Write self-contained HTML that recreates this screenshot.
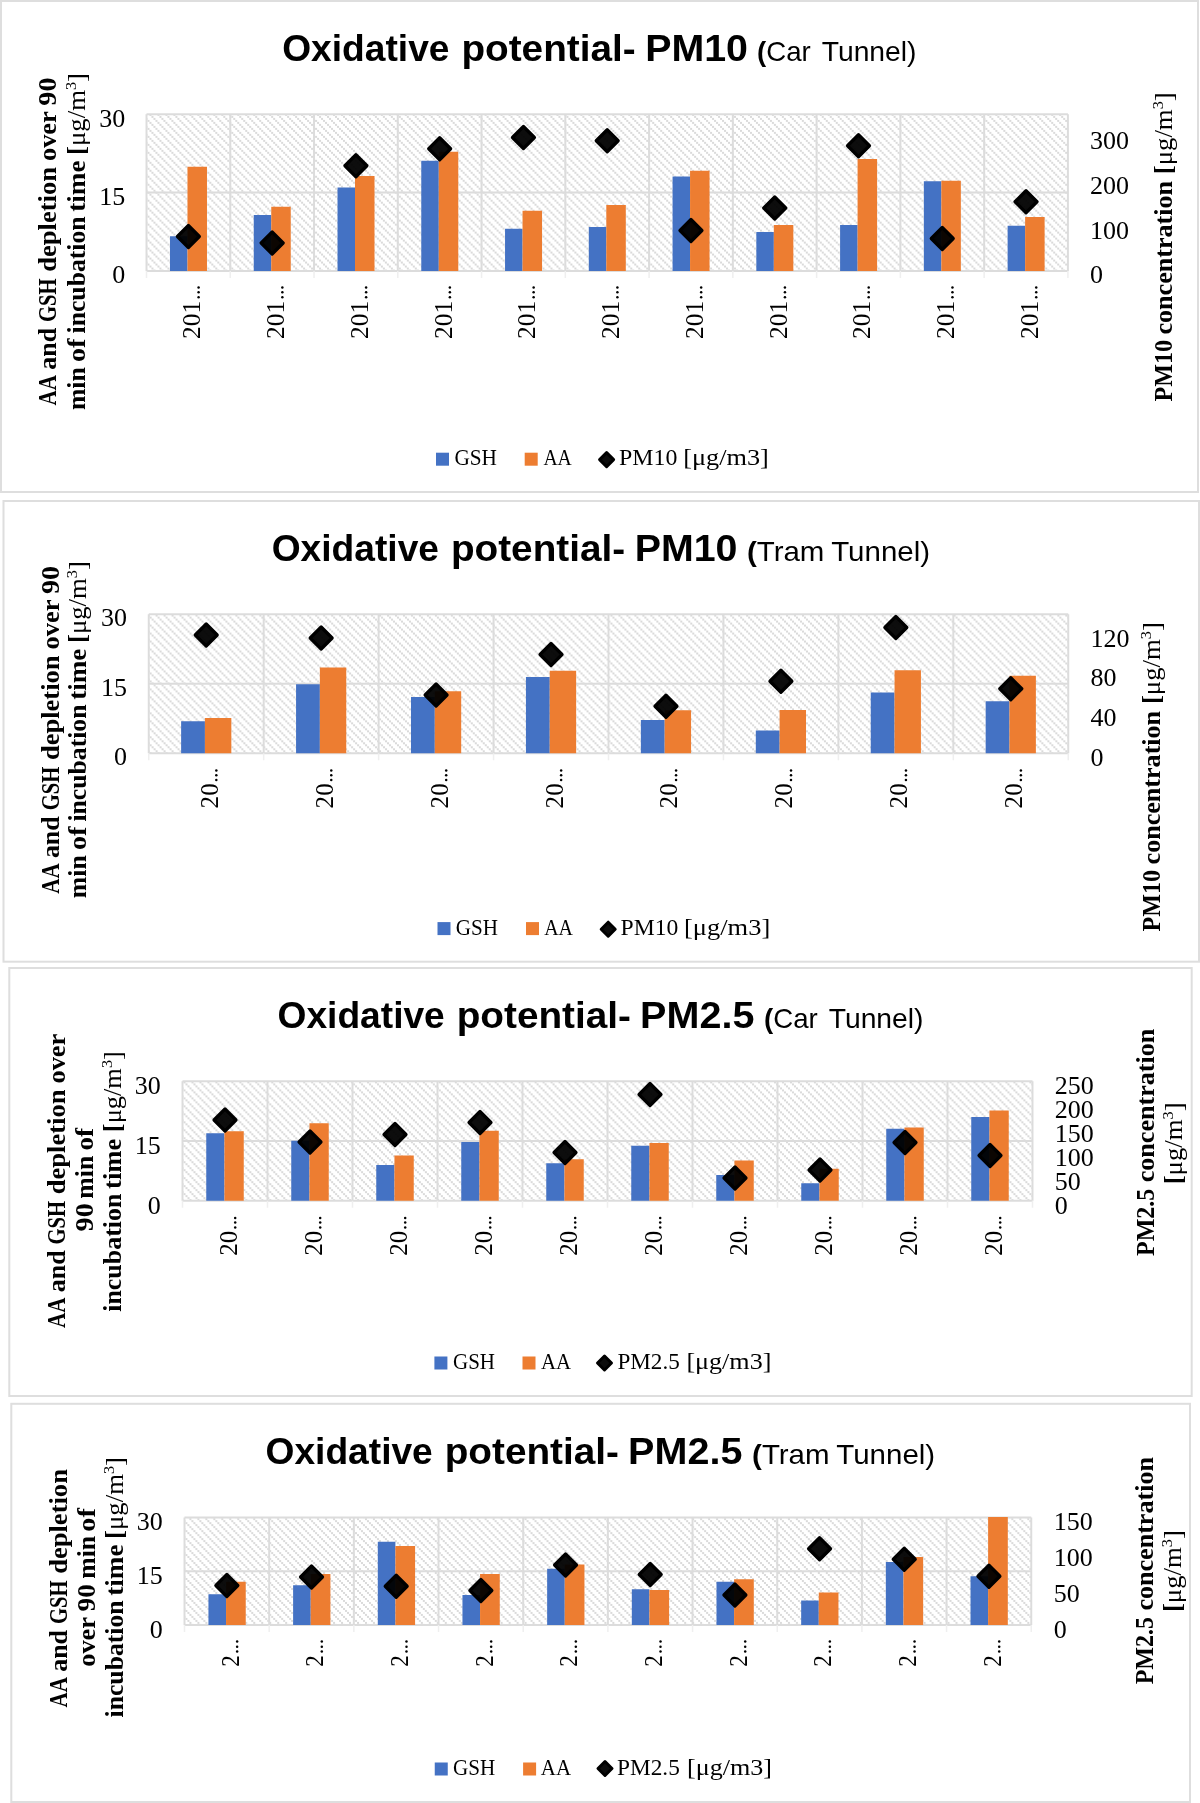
<!DOCTYPE html>
<html><head><meta charset="utf-8"><title>Oxidative potential charts</title>
<style>
html,body{margin:0;padding:0;background:#fff;}
body{width:1200px;height:1803px;overflow:hidden;}
svg{display:block;will-change:transform;}
text{font-family:"Liberation Serif",serif;fill:#000;}
text.t{font-family:"Liberation Sans",sans-serif;}
text.b{font-weight:bold;}
</style></head><body>
<svg width="1200" height="1803" viewBox="0 0 1200 1803">
<defs>
<pattern id="hc1" width="8" height="8" patternUnits="userSpaceOnUse" patternTransform="translate(157.452,121.903) scale(0.9975)"><rect x="0" y="0" width="2" height="2" fill="#dadada"/><rect x="2" y="2" width="2" height="2" fill="#dadada"/><rect x="4" y="4" width="2" height="2" fill="#dadada"/><rect x="6" y="6" width="2" height="2" fill="#dadada"/></pattern>
<pattern id="hc2" width="8" height="8" patternUnits="userSpaceOnUse" patternTransform="translate(159.602,618.603) scale(0.9975)"><rect x="0" y="0" width="2" height="2" fill="#dadada"/><rect x="2" y="2" width="2" height="2" fill="#dadada"/><rect x="4" y="4" width="2" height="2" fill="#dadada"/><rect x="6" y="6" width="2" height="2" fill="#dadada"/></pattern>
<pattern id="hc3" width="8" height="8" patternUnits="userSpaceOnUse" patternTransform="translate(189.502,1087.403) scale(0.9975)"><rect x="0" y="0" width="2" height="2" fill="#dadada"/><rect x="2" y="2" width="2" height="2" fill="#dadada"/><rect x="4" y="4" width="2" height="2" fill="#dadada"/><rect x="6" y="6" width="2" height="2" fill="#dadada"/></pattern>
<pattern id="hc4" width="8" height="8" patternUnits="userSpaceOnUse" patternTransform="translate(193.403,1522.153) scale(0.9975)"><rect x="0" y="0" width="2" height="2" fill="#dadada"/><rect x="2" y="2" width="2" height="2" fill="#dadada"/><rect x="4" y="4" width="2" height="2" fill="#dadada"/><rect x="6" y="6" width="2" height="2" fill="#dadada"/></pattern>
</defs>
<rect width="1200" height="1803" fill="#fff"/>
<rect x="1.00" y="1.00" width="1197.00" height="491.00" fill="#fff" stroke="#dedede" stroke-width="2"/>
<rect x="146.50" y="114.20" width="921.40" height="156.80" fill="url(#hc1)"/>
<line x1="146.50" y1="114.20" x2="1067.90" y2="114.20" stroke="#dcdcdc" stroke-width="2"/>
<line x1="146.50" y1="192.60" x2="1067.90" y2="192.60" stroke="#dcdcdc" stroke-width="2"/>
<line x1="146.50" y1="271.00" x2="1067.90" y2="271.00" stroke="#dcdcdc" stroke-width="2"/>
<line x1="146.50" y1="114.20" x2="146.50" y2="271.00" stroke="#dcdcdc" stroke-width="2"/>
<line x1="146.50" y1="271.00" x2="146.50" y2="278.00" stroke="#efefef" stroke-width="1.5"/>
<line x1="230.26" y1="114.20" x2="230.26" y2="271.00" stroke="#dcdcdc" stroke-width="2"/>
<line x1="230.26" y1="271.00" x2="230.26" y2="278.00" stroke="#efefef" stroke-width="1.5"/>
<line x1="314.03" y1="114.20" x2="314.03" y2="271.00" stroke="#dcdcdc" stroke-width="2"/>
<line x1="314.03" y1="271.00" x2="314.03" y2="278.00" stroke="#efefef" stroke-width="1.5"/>
<line x1="397.79" y1="114.20" x2="397.79" y2="271.00" stroke="#dcdcdc" stroke-width="2"/>
<line x1="397.79" y1="271.00" x2="397.79" y2="278.00" stroke="#efefef" stroke-width="1.5"/>
<line x1="481.55" y1="114.20" x2="481.55" y2="271.00" stroke="#dcdcdc" stroke-width="2"/>
<line x1="481.55" y1="271.00" x2="481.55" y2="278.00" stroke="#efefef" stroke-width="1.5"/>
<line x1="565.32" y1="114.20" x2="565.32" y2="271.00" stroke="#dcdcdc" stroke-width="2"/>
<line x1="565.32" y1="271.00" x2="565.32" y2="278.00" stroke="#efefef" stroke-width="1.5"/>
<line x1="649.08" y1="114.20" x2="649.08" y2="271.00" stroke="#dcdcdc" stroke-width="2"/>
<line x1="649.08" y1="271.00" x2="649.08" y2="278.00" stroke="#efefef" stroke-width="1.5"/>
<line x1="732.85" y1="114.20" x2="732.85" y2="271.00" stroke="#dcdcdc" stroke-width="2"/>
<line x1="732.85" y1="271.00" x2="732.85" y2="278.00" stroke="#efefef" stroke-width="1.5"/>
<line x1="816.61" y1="114.20" x2="816.61" y2="271.00" stroke="#dcdcdc" stroke-width="2"/>
<line x1="816.61" y1="271.00" x2="816.61" y2="278.00" stroke="#efefef" stroke-width="1.5"/>
<line x1="900.37" y1="114.20" x2="900.37" y2="271.00" stroke="#dcdcdc" stroke-width="2"/>
<line x1="900.37" y1="271.00" x2="900.37" y2="278.00" stroke="#efefef" stroke-width="1.5"/>
<line x1="984.14" y1="114.20" x2="984.14" y2="271.00" stroke="#dcdcdc" stroke-width="2"/>
<line x1="984.14" y1="271.00" x2="984.14" y2="278.00" stroke="#efefef" stroke-width="1.5"/>
<line x1="1067.90" y1="114.20" x2="1067.90" y2="271.00" stroke="#dcdcdc" stroke-width="2"/>
<line x1="1067.90" y1="271.00" x2="1067.90" y2="278.00" stroke="#efefef" stroke-width="1.5"/>
<rect x="169.98" y="236.25" width="17.50" height="34.75" fill="#4472C4"/>
<rect x="187.48" y="166.75" width="19.50" height="104.25" fill="#ED7D31"/>
<rect x="253.75" y="215.00" width="17.50" height="56.00" fill="#4472C4"/>
<rect x="271.25" y="206.75" width="19.50" height="64.25" fill="#ED7D31"/>
<rect x="337.51" y="187.50" width="17.50" height="83.50" fill="#4472C4"/>
<rect x="355.01" y="176.00" width="19.50" height="95.00" fill="#ED7D31"/>
<rect x="421.27" y="160.75" width="17.50" height="110.25" fill="#4472C4"/>
<rect x="438.77" y="151.75" width="19.50" height="119.25" fill="#ED7D31"/>
<rect x="505.04" y="228.75" width="17.50" height="42.25" fill="#4472C4"/>
<rect x="522.54" y="210.75" width="19.50" height="60.25" fill="#ED7D31"/>
<rect x="588.80" y="227.00" width="17.50" height="44.00" fill="#4472C4"/>
<rect x="606.30" y="205.00" width="19.50" height="66.00" fill="#ED7D31"/>
<rect x="672.56" y="176.50" width="17.50" height="94.50" fill="#4472C4"/>
<rect x="690.06" y="170.75" width="19.50" height="100.25" fill="#ED7D31"/>
<rect x="756.33" y="232.00" width="17.50" height="39.00" fill="#4472C4"/>
<rect x="773.83" y="225.00" width="19.50" height="46.00" fill="#ED7D31"/>
<rect x="840.09" y="225.00" width="17.50" height="46.00" fill="#4472C4"/>
<rect x="857.59" y="159.00" width="19.50" height="112.00" fill="#ED7D31"/>
<rect x="923.85" y="181.25" width="17.50" height="89.75" fill="#4472C4"/>
<rect x="941.35" y="180.75" width="19.50" height="90.25" fill="#ED7D31"/>
<rect x="1007.62" y="225.75" width="17.50" height="45.25" fill="#4472C4"/>
<rect x="1025.12" y="217.00" width="19.50" height="54.00" fill="#ED7D31"/>
<path d="M188.38,225.50L199.38,236.50L188.38,247.50L177.38,236.50Z" fill="#000" fill-opacity="0.95" stroke="#000" stroke-width="3.2" stroke-linejoin="round"/>
<path d="M272.15,232.00L283.15,243.00L272.15,254.00L261.15,243.00Z" fill="#000" fill-opacity="0.95" stroke="#000" stroke-width="3.2" stroke-linejoin="round"/>
<path d="M355.91,154.75L366.91,165.75L355.91,176.75L344.91,165.75Z" fill="#000" fill-opacity="0.95" stroke="#000" stroke-width="3.2" stroke-linejoin="round"/>
<path d="M439.67,137.75L450.67,148.75L439.67,159.75L428.67,148.75Z" fill="#000" fill-opacity="0.95" stroke="#000" stroke-width="3.2" stroke-linejoin="round"/>
<path d="M523.44,126.50L534.44,137.50L523.44,148.50L512.44,137.50Z" fill="#000" fill-opacity="0.95" stroke="#000" stroke-width="3.2" stroke-linejoin="round"/>
<path d="M607.20,129.75L618.20,140.75L607.20,151.75L596.20,140.75Z" fill="#000" fill-opacity="0.95" stroke="#000" stroke-width="3.2" stroke-linejoin="round"/>
<path d="M690.96,219.50L701.96,230.50L690.96,241.50L679.96,230.50Z" fill="#000" fill-opacity="0.95" stroke="#000" stroke-width="3.2" stroke-linejoin="round"/>
<path d="M774.73,197.00L785.73,208.00L774.73,219.00L763.73,208.00Z" fill="#000" fill-opacity="0.95" stroke="#000" stroke-width="3.2" stroke-linejoin="round"/>
<path d="M858.49,134.75L869.49,145.75L858.49,156.75L847.49,145.75Z" fill="#000" fill-opacity="0.95" stroke="#000" stroke-width="3.2" stroke-linejoin="round"/>
<path d="M942.25,227.50L953.25,238.50L942.25,249.50L931.25,238.50Z" fill="#000" fill-opacity="0.95" stroke="#000" stroke-width="3.2" stroke-linejoin="round"/>
<path d="M1026.02,190.75L1037.02,201.75L1026.02,212.75L1015.02,201.75Z" fill="#000" fill-opacity="0.95" stroke="#000" stroke-width="3.2" stroke-linejoin="round"/>
<text class="s" transform="translate(200.28,338.90) rotate(-90)" font-size="25.5" text-anchor="start" textLength="38.0" lengthAdjust="spacingAndGlyphs">201</text>
<circle cx="198.58" cy="297.30" r="1.25" fill="#000"/>
<circle cx="198.58" cy="292.30" r="1.25" fill="#000"/>
<circle cx="198.58" cy="287.60" r="1.25" fill="#000"/>
<text class="s" transform="translate(284.05,338.90) rotate(-90)" font-size="25.5" text-anchor="start" textLength="38.0" lengthAdjust="spacingAndGlyphs">201</text>
<circle cx="282.35" cy="297.30" r="1.25" fill="#000"/>
<circle cx="282.35" cy="292.30" r="1.25" fill="#000"/>
<circle cx="282.35" cy="287.60" r="1.25" fill="#000"/>
<text class="s" transform="translate(367.81,338.90) rotate(-90)" font-size="25.5" text-anchor="start" textLength="38.0" lengthAdjust="spacingAndGlyphs">201</text>
<circle cx="366.11" cy="297.30" r="1.25" fill="#000"/>
<circle cx="366.11" cy="292.30" r="1.25" fill="#000"/>
<circle cx="366.11" cy="287.60" r="1.25" fill="#000"/>
<text class="s" transform="translate(451.57,338.90) rotate(-90)" font-size="25.5" text-anchor="start" textLength="38.0" lengthAdjust="spacingAndGlyphs">201</text>
<circle cx="449.87" cy="297.30" r="1.25" fill="#000"/>
<circle cx="449.87" cy="292.30" r="1.25" fill="#000"/>
<circle cx="449.87" cy="287.60" r="1.25" fill="#000"/>
<text class="s" transform="translate(535.34,338.90) rotate(-90)" font-size="25.5" text-anchor="start" textLength="38.0" lengthAdjust="spacingAndGlyphs">201</text>
<circle cx="533.64" cy="297.30" r="1.25" fill="#000"/>
<circle cx="533.64" cy="292.30" r="1.25" fill="#000"/>
<circle cx="533.64" cy="287.60" r="1.25" fill="#000"/>
<text class="s" transform="translate(619.10,338.90) rotate(-90)" font-size="25.5" text-anchor="start" textLength="38.0" lengthAdjust="spacingAndGlyphs">201</text>
<circle cx="617.40" cy="297.30" r="1.25" fill="#000"/>
<circle cx="617.40" cy="292.30" r="1.25" fill="#000"/>
<circle cx="617.40" cy="287.60" r="1.25" fill="#000"/>
<text class="s" transform="translate(702.86,338.90) rotate(-90)" font-size="25.5" text-anchor="start" textLength="38.0" lengthAdjust="spacingAndGlyphs">201</text>
<circle cx="701.16" cy="297.30" r="1.25" fill="#000"/>
<circle cx="701.16" cy="292.30" r="1.25" fill="#000"/>
<circle cx="701.16" cy="287.60" r="1.25" fill="#000"/>
<text class="s" transform="translate(786.63,338.90) rotate(-90)" font-size="25.5" text-anchor="start" textLength="38.0" lengthAdjust="spacingAndGlyphs">201</text>
<circle cx="784.93" cy="297.30" r="1.25" fill="#000"/>
<circle cx="784.93" cy="292.30" r="1.25" fill="#000"/>
<circle cx="784.93" cy="287.60" r="1.25" fill="#000"/>
<text class="s" transform="translate(870.39,338.90) rotate(-90)" font-size="25.5" text-anchor="start" textLength="38.0" lengthAdjust="spacingAndGlyphs">201</text>
<circle cx="868.69" cy="297.30" r="1.25" fill="#000"/>
<circle cx="868.69" cy="292.30" r="1.25" fill="#000"/>
<circle cx="868.69" cy="287.60" r="1.25" fill="#000"/>
<text class="s" transform="translate(954.15,338.90) rotate(-90)" font-size="25.5" text-anchor="start" textLength="38.0" lengthAdjust="spacingAndGlyphs">201</text>
<circle cx="952.45" cy="297.30" r="1.25" fill="#000"/>
<circle cx="952.45" cy="292.30" r="1.25" fill="#000"/>
<circle cx="952.45" cy="287.60" r="1.25" fill="#000"/>
<text class="s" transform="translate(1037.92,338.90) rotate(-90)" font-size="25.5" text-anchor="start" textLength="38.0" lengthAdjust="spacingAndGlyphs">201</text>
<circle cx="1036.22" cy="297.30" r="1.25" fill="#000"/>
<circle cx="1036.22" cy="292.30" r="1.25" fill="#000"/>
<circle cx="1036.22" cy="287.60" r="1.25" fill="#000"/>
<text class="s" x="125.30" y="127.00" font-size="25" text-anchor="end" textLength="26.0" lengthAdjust="spacingAndGlyphs">30</text>
<text class="s" x="125.30" y="205.30" font-size="25" text-anchor="end" textLength="26.0" lengthAdjust="spacingAndGlyphs">15</text>
<text class="s" x="125.30" y="283.30" font-size="25" text-anchor="end" textLength="13.0" lengthAdjust="spacingAndGlyphs">0</text>
<text class="s" x="1090.00" y="149.00" font-size="25" text-anchor="start" textLength="39.0" lengthAdjust="spacingAndGlyphs">300</text>
<text class="s" x="1090.00" y="194.00" font-size="25" text-anchor="start" textLength="39.0" lengthAdjust="spacingAndGlyphs">200</text>
<text class="s" x="1090.00" y="239.00" font-size="25" text-anchor="start" textLength="39.0" lengthAdjust="spacingAndGlyphs">100</text>
<text class="s" x="1090.00" y="283.30" font-size="25" text-anchor="start" textLength="13.0" lengthAdjust="spacingAndGlyphs">0</text>
<text class="t b" x="282.20" y="60.70" font-size="37.8" text-anchor="start" textLength="167.3" lengthAdjust="spacingAndGlyphs">Oxidative</text>
<text class="t b" x="461.40" y="60.70" font-size="37.8" text-anchor="start" textLength="174.3" lengthAdjust="spacingAndGlyphs">potential-</text>
<text class="t b" x="645.20" y="60.70" font-size="37.8" text-anchor="start" textLength="102.8" lengthAdjust="spacingAndGlyphs">PM10</text>
<text class="t" x="757.00" y="60.70" font-size="28" text-anchor="start" textLength="53.7" lengthAdjust="spacingAndGlyphs"><tspan font-weight="bold">(</tspan>Car</text>
<text class="t" x="821.70" y="60.70" font-size="28" text-anchor="start" textLength="94.8" lengthAdjust="spacingAndGlyphs">Tunnel)</text>
<text class="s" transform="translate(56.30,405.40) rotate(-90)" font-size="24.6" text-anchor="start" textLength="30.5" lengthAdjust="spacingAndGlyphs"><tspan font-weight="bold">AA</tspan></text>
<text class="s" transform="translate(56.30,369.70) rotate(-90)" font-size="24.6" text-anchor="start" textLength="41.8" lengthAdjust="spacingAndGlyphs"><tspan font-weight="bold">and</tspan></text>
<text class="s" transform="translate(56.30,321.90) rotate(-90)" font-size="24.6" text-anchor="start" textLength="43.5" lengthAdjust="spacingAndGlyphs"><tspan font-weight="bold">GSH</tspan></text>
<text class="s" transform="translate(56.30,271.70) rotate(-90)" font-size="24.6" text-anchor="start" textLength="104.7" lengthAdjust="spacingAndGlyphs"><tspan font-weight="bold">depletion</tspan></text>
<text class="s" transform="translate(56.30,161.00) rotate(-90)" font-size="24.6" text-anchor="start" textLength="49.8" lengthAdjust="spacingAndGlyphs"><tspan font-weight="bold">over</tspan></text>
<text class="s" transform="translate(56.30,105.70) rotate(-90)" font-size="24.6" text-anchor="start" textLength="28.2" lengthAdjust="spacingAndGlyphs"><tspan font-weight="bold">90</tspan></text>
<text class="s" transform="translate(84.50,410.10) rotate(-90)" font-size="24.6" text-anchor="start" textLength="42.9" lengthAdjust="spacingAndGlyphs"><tspan font-weight="bold">min</tspan></text>
<text class="s" transform="translate(84.50,362.00) rotate(-90)" font-size="24.6" text-anchor="start" textLength="23.5" lengthAdjust="spacingAndGlyphs"><tspan font-weight="bold">of</tspan></text>
<text class="s" transform="translate(84.50,333.50) rotate(-90)" font-size="24.6" text-anchor="start" textLength="117.1" lengthAdjust="spacingAndGlyphs"><tspan font-weight="bold">incubation</tspan></text>
<text class="s" transform="translate(84.50,211.70) rotate(-90)" font-size="24.6" text-anchor="start" textLength="51.2" lengthAdjust="spacingAndGlyphs"><tspan font-weight="bold">time</tspan></text>
<text class="s" transform="translate(84.50,154.90) rotate(-90)" font-size="24.6" text-anchor="start" textLength="81.9" lengthAdjust="spacingAndGlyphs"><tspan font-weight="bold">[</tspan>μg/m<tspan font-size="15" dy="-9">3</tspan><tspan dy="9">]</tspan></text>
<text class="s" transform="translate(1172.00,401.60) rotate(-90)" font-size="24.6" text-anchor="start" textLength="61.6" lengthAdjust="spacingAndGlyphs"><tspan font-weight="bold">PM10</tspan></text>
<text class="s" transform="translate(1172.00,334.50) rotate(-90)" font-size="24.6" text-anchor="start" textLength="153.5" lengthAdjust="spacingAndGlyphs"><tspan font-weight="bold">concentration</tspan></text>
<text class="s" transform="translate(1172.00,174.20) rotate(-90)" font-size="24.6" text-anchor="start" textLength="81.9" lengthAdjust="spacingAndGlyphs"><tspan font-weight="bold">[</tspan>μg/m<tspan font-size="15" dy="-9">3</tspan><tspan dy="9">]</tspan></text>
<rect x="436.00" y="452.70" width="13" height="13" fill="#4472C4"/>
<rect x="524.70" y="452.70" width="13" height="13" fill="#ED7D31"/>
<path d="M606.60,452.60L613.60,459.60L606.60,466.60L599.60,459.60Z" fill="#0d0d0d" stroke="#000" stroke-width="3.0" stroke-linejoin="round"/>
<text class="s" x="454.40" y="465.30" font-size="23.8" text-anchor="start" textLength="42.6" lengthAdjust="spacingAndGlyphs">GSH</text>
<text class="s" x="543.40" y="465.30" font-size="23.8" text-anchor="start" textLength="28.4" lengthAdjust="spacingAndGlyphs">AA</text>
<text class="s" x="619.00" y="465.30" font-size="23.8" text-anchor="start" textLength="58.4" lengthAdjust="spacingAndGlyphs">PM10</text>
<text class="s" x="683.20" y="465.30" font-size="23.8" text-anchor="start" textLength="85.6" lengthAdjust="spacingAndGlyphs">[μg/m3]</text>
<rect x="3.50" y="501.00" width="1195.50" height="460.70" fill="#fff" stroke="#dedede" stroke-width="2"/>
<rect x="148.75" y="614.25" width="919.50" height="139.00" fill="url(#hc2)"/>
<line x1="148.75" y1="614.25" x2="1068.25" y2="614.25" stroke="#dcdcdc" stroke-width="2"/>
<line x1="148.75" y1="683.75" x2="1068.25" y2="683.75" stroke="#dcdcdc" stroke-width="2"/>
<line x1="148.75" y1="753.25" x2="1068.25" y2="753.25" stroke="#dcdcdc" stroke-width="2"/>
<line x1="148.75" y1="614.25" x2="148.75" y2="753.25" stroke="#dcdcdc" stroke-width="2"/>
<line x1="148.75" y1="753.25" x2="148.75" y2="760.25" stroke="#efefef" stroke-width="1.5"/>
<line x1="263.69" y1="614.25" x2="263.69" y2="753.25" stroke="#dcdcdc" stroke-width="2"/>
<line x1="263.69" y1="753.25" x2="263.69" y2="760.25" stroke="#efefef" stroke-width="1.5"/>
<line x1="378.62" y1="614.25" x2="378.62" y2="753.25" stroke="#dcdcdc" stroke-width="2"/>
<line x1="378.62" y1="753.25" x2="378.62" y2="760.25" stroke="#efefef" stroke-width="1.5"/>
<line x1="493.56" y1="614.25" x2="493.56" y2="753.25" stroke="#dcdcdc" stroke-width="2"/>
<line x1="493.56" y1="753.25" x2="493.56" y2="760.25" stroke="#efefef" stroke-width="1.5"/>
<line x1="608.50" y1="614.25" x2="608.50" y2="753.25" stroke="#dcdcdc" stroke-width="2"/>
<line x1="608.50" y1="753.25" x2="608.50" y2="760.25" stroke="#efefef" stroke-width="1.5"/>
<line x1="723.44" y1="614.25" x2="723.44" y2="753.25" stroke="#dcdcdc" stroke-width="2"/>
<line x1="723.44" y1="753.25" x2="723.44" y2="760.25" stroke="#efefef" stroke-width="1.5"/>
<line x1="838.38" y1="614.25" x2="838.38" y2="753.25" stroke="#dcdcdc" stroke-width="2"/>
<line x1="838.38" y1="753.25" x2="838.38" y2="760.25" stroke="#efefef" stroke-width="1.5"/>
<line x1="953.31" y1="614.25" x2="953.31" y2="753.25" stroke="#dcdcdc" stroke-width="2"/>
<line x1="953.31" y1="753.25" x2="953.31" y2="760.25" stroke="#efefef" stroke-width="1.5"/>
<line x1="1068.25" y1="614.25" x2="1068.25" y2="753.25" stroke="#dcdcdc" stroke-width="2"/>
<line x1="1068.25" y1="753.25" x2="1068.25" y2="760.25" stroke="#efefef" stroke-width="1.5"/>
<rect x="181.12" y="721.25" width="23.80" height="32.00" fill="#4472C4"/>
<rect x="204.92" y="718.00" width="26.40" height="35.25" fill="#ED7D31"/>
<rect x="296.06" y="684.25" width="23.80" height="69.00" fill="#4472C4"/>
<rect x="319.86" y="667.50" width="26.40" height="85.75" fill="#ED7D31"/>
<rect x="410.99" y="697.00" width="23.80" height="56.25" fill="#4472C4"/>
<rect x="434.79" y="691.25" width="26.40" height="62.00" fill="#ED7D31"/>
<rect x="525.93" y="677.00" width="23.80" height="76.25" fill="#4472C4"/>
<rect x="549.73" y="670.75" width="26.40" height="82.50" fill="#ED7D31"/>
<rect x="640.87" y="720.00" width="23.80" height="33.25" fill="#4472C4"/>
<rect x="664.67" y="710.25" width="26.40" height="43.00" fill="#ED7D31"/>
<rect x="755.81" y="730.50" width="23.80" height="22.75" fill="#4472C4"/>
<rect x="779.61" y="710.00" width="26.40" height="43.25" fill="#ED7D31"/>
<rect x="870.74" y="692.50" width="23.80" height="60.75" fill="#4472C4"/>
<rect x="894.54" y="670.25" width="26.40" height="83.00" fill="#ED7D31"/>
<rect x="985.68" y="701.25" width="23.80" height="52.00" fill="#4472C4"/>
<rect x="1009.48" y="675.75" width="26.40" height="77.50" fill="#ED7D31"/>
<path d="M206.22,624.00L217.22,635.00L206.22,646.00L195.22,635.00Z" fill="#000" fill-opacity="0.95" stroke="#000" stroke-width="3.2" stroke-linejoin="round"/>
<path d="M321.16,627.00L332.16,638.00L321.16,649.00L310.16,638.00Z" fill="#000" fill-opacity="0.95" stroke="#000" stroke-width="3.2" stroke-linejoin="round"/>
<path d="M436.09,684.00L447.09,695.00L436.09,706.00L425.09,695.00Z" fill="#000" fill-opacity="0.95" stroke="#000" stroke-width="3.2" stroke-linejoin="round"/>
<path d="M551.03,643.50L562.03,654.50L551.03,665.50L540.03,654.50Z" fill="#000" fill-opacity="0.95" stroke="#000" stroke-width="3.2" stroke-linejoin="round"/>
<path d="M665.97,695.25L676.97,706.25L665.97,717.25L654.97,706.25Z" fill="#000" fill-opacity="0.95" stroke="#000" stroke-width="3.2" stroke-linejoin="round"/>
<path d="M780.91,670.25L791.91,681.25L780.91,692.25L769.91,681.25Z" fill="#000" fill-opacity="0.95" stroke="#000" stroke-width="3.2" stroke-linejoin="round"/>
<path d="M895.84,616.50L906.84,627.50L895.84,638.50L884.84,627.50Z" fill="#000" fill-opacity="0.95" stroke="#000" stroke-width="3.2" stroke-linejoin="round"/>
<path d="M1010.78,677.75L1021.78,688.75L1010.78,699.75L999.78,688.75Z" fill="#000" fill-opacity="0.95" stroke="#000" stroke-width="3.2" stroke-linejoin="round"/>
<text class="s" transform="translate(217.72,808.40) rotate(-90)" font-size="25.5" text-anchor="start" textLength="25.1" lengthAdjust="spacingAndGlyphs">20</text>
<circle cx="216.32" cy="780.00" r="1.25" fill="#000"/>
<circle cx="216.32" cy="775.30" r="1.25" fill="#000"/>
<circle cx="216.32" cy="770.40" r="1.25" fill="#000"/>
<text class="s" transform="translate(332.66,808.40) rotate(-90)" font-size="25.5" text-anchor="start" textLength="25.1" lengthAdjust="spacingAndGlyphs">20</text>
<circle cx="331.26" cy="780.00" r="1.25" fill="#000"/>
<circle cx="331.26" cy="775.30" r="1.25" fill="#000"/>
<circle cx="331.26" cy="770.40" r="1.25" fill="#000"/>
<text class="s" transform="translate(447.59,808.40) rotate(-90)" font-size="25.5" text-anchor="start" textLength="25.1" lengthAdjust="spacingAndGlyphs">20</text>
<circle cx="446.19" cy="780.00" r="1.25" fill="#000"/>
<circle cx="446.19" cy="775.30" r="1.25" fill="#000"/>
<circle cx="446.19" cy="770.40" r="1.25" fill="#000"/>
<text class="s" transform="translate(562.53,808.40) rotate(-90)" font-size="25.5" text-anchor="start" textLength="25.1" lengthAdjust="spacingAndGlyphs">20</text>
<circle cx="561.13" cy="780.00" r="1.25" fill="#000"/>
<circle cx="561.13" cy="775.30" r="1.25" fill="#000"/>
<circle cx="561.13" cy="770.40" r="1.25" fill="#000"/>
<text class="s" transform="translate(677.47,808.40) rotate(-90)" font-size="25.5" text-anchor="start" textLength="25.1" lengthAdjust="spacingAndGlyphs">20</text>
<circle cx="676.07" cy="780.00" r="1.25" fill="#000"/>
<circle cx="676.07" cy="775.30" r="1.25" fill="#000"/>
<circle cx="676.07" cy="770.40" r="1.25" fill="#000"/>
<text class="s" transform="translate(792.41,808.40) rotate(-90)" font-size="25.5" text-anchor="start" textLength="25.1" lengthAdjust="spacingAndGlyphs">20</text>
<circle cx="791.01" cy="780.00" r="1.25" fill="#000"/>
<circle cx="791.01" cy="775.30" r="1.25" fill="#000"/>
<circle cx="791.01" cy="770.40" r="1.25" fill="#000"/>
<text class="s" transform="translate(907.34,808.40) rotate(-90)" font-size="25.5" text-anchor="start" textLength="25.1" lengthAdjust="spacingAndGlyphs">20</text>
<circle cx="905.94" cy="780.00" r="1.25" fill="#000"/>
<circle cx="905.94" cy="775.30" r="1.25" fill="#000"/>
<circle cx="905.94" cy="770.40" r="1.25" fill="#000"/>
<text class="s" transform="translate(1022.28,808.40) rotate(-90)" font-size="25.5" text-anchor="start" textLength="25.1" lengthAdjust="spacingAndGlyphs">20</text>
<circle cx="1020.88" cy="780.00" r="1.25" fill="#000"/>
<circle cx="1020.88" cy="775.30" r="1.25" fill="#000"/>
<circle cx="1020.88" cy="770.40" r="1.25" fill="#000"/>
<text class="s" x="127.10" y="626.20" font-size="25" text-anchor="end" textLength="26.0" lengthAdjust="spacingAndGlyphs">30</text>
<text class="s" x="127.10" y="695.70" font-size="25" text-anchor="end" textLength="26.0" lengthAdjust="spacingAndGlyphs">15</text>
<text class="s" x="127.10" y="765.20" font-size="25" text-anchor="end" textLength="13.0" lengthAdjust="spacingAndGlyphs">0</text>
<text class="s" x="1090.50" y="646.70" font-size="25" text-anchor="start" textLength="39.0" lengthAdjust="spacingAndGlyphs">120</text>
<text class="s" x="1090.50" y="686.30" font-size="25" text-anchor="start" textLength="26.0" lengthAdjust="spacingAndGlyphs">80</text>
<text class="s" x="1090.50" y="726.00" font-size="25" text-anchor="start" textLength="26.0" lengthAdjust="spacingAndGlyphs">40</text>
<text class="s" x="1090.50" y="765.70" font-size="25" text-anchor="start" textLength="13.0" lengthAdjust="spacingAndGlyphs">0</text>
<text class="t b" x="271.70" y="560.80" font-size="37.8" text-anchor="start" textLength="167.3" lengthAdjust="spacingAndGlyphs">Oxidative</text>
<text class="t b" x="450.90" y="560.80" font-size="37.8" text-anchor="start" textLength="174.3" lengthAdjust="spacingAndGlyphs">potential-</text>
<text class="t b" x="634.70" y="560.80" font-size="37.8" text-anchor="start" textLength="102.8" lengthAdjust="spacingAndGlyphs">PM10</text>
<text class="t" x="747.00" y="560.80" font-size="28" text-anchor="start" textLength="77.4" lengthAdjust="spacingAndGlyphs"><tspan font-weight="bold">(</tspan>Tram</text>
<text class="t" x="831.20" y="560.80" font-size="28" text-anchor="start" textLength="98.9" lengthAdjust="spacingAndGlyphs">Tunnel)</text>
<text class="s" transform="translate(58.60,893.80) rotate(-90)" font-size="24.6" text-anchor="start" textLength="30.5" lengthAdjust="spacingAndGlyphs"><tspan font-weight="bold">AA</tspan></text>
<text class="s" transform="translate(58.60,858.10) rotate(-90)" font-size="24.6" text-anchor="start" textLength="41.8" lengthAdjust="spacingAndGlyphs"><tspan font-weight="bold">and</tspan></text>
<text class="s" transform="translate(58.60,810.30) rotate(-90)" font-size="24.6" text-anchor="start" textLength="43.5" lengthAdjust="spacingAndGlyphs"><tspan font-weight="bold">GSH</tspan></text>
<text class="s" transform="translate(58.60,760.10) rotate(-90)" font-size="24.6" text-anchor="start" textLength="104.7" lengthAdjust="spacingAndGlyphs"><tspan font-weight="bold">depletion</tspan></text>
<text class="s" transform="translate(58.60,649.40) rotate(-90)" font-size="24.6" text-anchor="start" textLength="49.8" lengthAdjust="spacingAndGlyphs"><tspan font-weight="bold">over</tspan></text>
<text class="s" transform="translate(58.60,594.10) rotate(-90)" font-size="24.6" text-anchor="start" textLength="28.2" lengthAdjust="spacingAndGlyphs"><tspan font-weight="bold">90</tspan></text>
<text class="s" transform="translate(86.30,898.20) rotate(-90)" font-size="24.6" text-anchor="start" textLength="42.9" lengthAdjust="spacingAndGlyphs"><tspan font-weight="bold">min</tspan></text>
<text class="s" transform="translate(86.30,850.10) rotate(-90)" font-size="24.6" text-anchor="start" textLength="23.5" lengthAdjust="spacingAndGlyphs"><tspan font-weight="bold">of</tspan></text>
<text class="s" transform="translate(86.30,821.60) rotate(-90)" font-size="24.6" text-anchor="start" textLength="117.1" lengthAdjust="spacingAndGlyphs"><tspan font-weight="bold">incubation</tspan></text>
<text class="s" transform="translate(86.30,699.80) rotate(-90)" font-size="24.6" text-anchor="start" textLength="51.2" lengthAdjust="spacingAndGlyphs"><tspan font-weight="bold">time</tspan></text>
<text class="s" transform="translate(86.30,643.00) rotate(-90)" font-size="24.6" text-anchor="start" textLength="81.9" lengthAdjust="spacingAndGlyphs"><tspan font-weight="bold">[</tspan>μg/m<tspan font-size="15" dy="-9">3</tspan><tspan dy="9">]</tspan></text>
<text class="s" transform="translate(1160.30,931.50) rotate(-90)" font-size="24.6" text-anchor="start" textLength="61.6" lengthAdjust="spacingAndGlyphs"><tspan font-weight="bold">PM10</tspan></text>
<text class="s" transform="translate(1160.30,864.40) rotate(-90)" font-size="24.6" text-anchor="start" textLength="153.5" lengthAdjust="spacingAndGlyphs"><tspan font-weight="bold">concentration</tspan></text>
<text class="s" transform="translate(1160.30,704.10) rotate(-90)" font-size="24.6" text-anchor="start" textLength="81.9" lengthAdjust="spacingAndGlyphs"><tspan font-weight="bold">[</tspan>μg/m<tspan font-size="15" dy="-9">3</tspan><tspan dy="9">]</tspan></text>
<rect x="437.50" y="922.10" width="13" height="13" fill="#4472C4"/>
<rect x="526.00" y="922.10" width="13" height="13" fill="#ED7D31"/>
<path d="M608.20,922.20L615.20,929.20L608.20,936.20L601.20,929.20Z" fill="#0d0d0d" stroke="#000" stroke-width="3.0" stroke-linejoin="round"/>
<text class="s" x="455.80" y="935.00" font-size="23.8" text-anchor="start" textLength="42.2" lengthAdjust="spacingAndGlyphs">GSH</text>
<text class="s" x="544.20" y="935.00" font-size="23.8" text-anchor="start" textLength="28.8" lengthAdjust="spacingAndGlyphs">AA</text>
<text class="s" x="620.60" y="935.00" font-size="23.8" text-anchor="start" textLength="57.8" lengthAdjust="spacingAndGlyphs">PM10</text>
<text class="s" x="684.00" y="935.00" font-size="23.8" text-anchor="start" textLength="86.2" lengthAdjust="spacingAndGlyphs">[μg/m3]</text>
<rect x="9.30" y="968.00" width="1182.40" height="428.00" fill="#fff" stroke="#dedede" stroke-width="2"/>
<rect x="182.50" y="1081.25" width="850.00" height="119.50" fill="url(#hc3)"/>
<line x1="182.50" y1="1081.25" x2="1032.50" y2="1081.25" stroke="#dcdcdc" stroke-width="2"/>
<line x1="182.50" y1="1141.00" x2="1032.50" y2="1141.00" stroke="#dcdcdc" stroke-width="2"/>
<line x1="182.50" y1="1200.75" x2="1032.50" y2="1200.75" stroke="#dcdcdc" stroke-width="2"/>
<line x1="182.50" y1="1081.25" x2="182.50" y2="1200.75" stroke="#dcdcdc" stroke-width="2"/>
<line x1="182.50" y1="1200.75" x2="182.50" y2="1207.75" stroke="#efefef" stroke-width="1.5"/>
<line x1="267.50" y1="1081.25" x2="267.50" y2="1200.75" stroke="#dcdcdc" stroke-width="2"/>
<line x1="267.50" y1="1200.75" x2="267.50" y2="1207.75" stroke="#efefef" stroke-width="1.5"/>
<line x1="352.50" y1="1081.25" x2="352.50" y2="1200.75" stroke="#dcdcdc" stroke-width="2"/>
<line x1="352.50" y1="1200.75" x2="352.50" y2="1207.75" stroke="#efefef" stroke-width="1.5"/>
<line x1="437.50" y1="1081.25" x2="437.50" y2="1200.75" stroke="#dcdcdc" stroke-width="2"/>
<line x1="437.50" y1="1200.75" x2="437.50" y2="1207.75" stroke="#efefef" stroke-width="1.5"/>
<line x1="522.50" y1="1081.25" x2="522.50" y2="1200.75" stroke="#dcdcdc" stroke-width="2"/>
<line x1="522.50" y1="1200.75" x2="522.50" y2="1207.75" stroke="#efefef" stroke-width="1.5"/>
<line x1="607.50" y1="1081.25" x2="607.50" y2="1200.75" stroke="#dcdcdc" stroke-width="2"/>
<line x1="607.50" y1="1200.75" x2="607.50" y2="1207.75" stroke="#efefef" stroke-width="1.5"/>
<line x1="692.50" y1="1081.25" x2="692.50" y2="1200.75" stroke="#dcdcdc" stroke-width="2"/>
<line x1="692.50" y1="1200.75" x2="692.50" y2="1207.75" stroke="#efefef" stroke-width="1.5"/>
<line x1="777.50" y1="1081.25" x2="777.50" y2="1200.75" stroke="#dcdcdc" stroke-width="2"/>
<line x1="777.50" y1="1200.75" x2="777.50" y2="1207.75" stroke="#efefef" stroke-width="1.5"/>
<line x1="862.50" y1="1081.25" x2="862.50" y2="1200.75" stroke="#dcdcdc" stroke-width="2"/>
<line x1="862.50" y1="1200.75" x2="862.50" y2="1207.75" stroke="#efefef" stroke-width="1.5"/>
<line x1="947.50" y1="1081.25" x2="947.50" y2="1200.75" stroke="#dcdcdc" stroke-width="2"/>
<line x1="947.50" y1="1200.75" x2="947.50" y2="1207.75" stroke="#efefef" stroke-width="1.5"/>
<line x1="1032.50" y1="1081.25" x2="1032.50" y2="1200.75" stroke="#dcdcdc" stroke-width="2"/>
<line x1="1032.50" y1="1200.75" x2="1032.50" y2="1207.75" stroke="#efefef" stroke-width="1.5"/>
<rect x="206.25" y="1133.25" width="18.20" height="67.50" fill="#4472C4"/>
<rect x="224.45" y="1131.25" width="19.30" height="69.50" fill="#ED7D31"/>
<rect x="291.25" y="1140.75" width="18.20" height="60.00" fill="#4472C4"/>
<rect x="309.45" y="1123.25" width="19.30" height="77.50" fill="#ED7D31"/>
<rect x="376.25" y="1165.00" width="18.20" height="35.75" fill="#4472C4"/>
<rect x="394.45" y="1155.50" width="19.30" height="45.25" fill="#ED7D31"/>
<rect x="461.25" y="1142.00" width="18.20" height="58.75" fill="#4472C4"/>
<rect x="479.45" y="1130.75" width="19.30" height="70.00" fill="#ED7D31"/>
<rect x="546.25" y="1163.25" width="18.20" height="37.50" fill="#4472C4"/>
<rect x="564.45" y="1159.25" width="19.30" height="41.50" fill="#ED7D31"/>
<rect x="631.25" y="1145.75" width="18.20" height="55.00" fill="#4472C4"/>
<rect x="649.45" y="1143.00" width="19.30" height="57.75" fill="#ED7D31"/>
<rect x="716.25" y="1175.00" width="18.20" height="25.75" fill="#4472C4"/>
<rect x="734.45" y="1160.50" width="19.30" height="40.25" fill="#ED7D31"/>
<rect x="801.25" y="1183.25" width="18.20" height="17.50" fill="#4472C4"/>
<rect x="819.45" y="1168.75" width="19.30" height="32.00" fill="#ED7D31"/>
<rect x="886.25" y="1128.75" width="18.20" height="72.00" fill="#4472C4"/>
<rect x="904.45" y="1127.50" width="19.30" height="73.25" fill="#ED7D31"/>
<rect x="971.25" y="1117.00" width="18.20" height="83.75" fill="#4472C4"/>
<rect x="989.45" y="1110.50" width="19.30" height="90.25" fill="#ED7D31"/>
<path d="M225.00,1109.00L236.00,1120.00L225.00,1131.00L214.00,1120.00Z" fill="#000" fill-opacity="0.95" stroke="#000" stroke-width="3.2" stroke-linejoin="round"/>
<path d="M310.00,1131.00L321.00,1142.00L310.00,1153.00L299.00,1142.00Z" fill="#000" fill-opacity="0.95" stroke="#000" stroke-width="3.2" stroke-linejoin="round"/>
<path d="M395.00,1123.50L406.00,1134.50L395.00,1145.50L384.00,1134.50Z" fill="#000" fill-opacity="0.95" stroke="#000" stroke-width="3.2" stroke-linejoin="round"/>
<path d="M480.00,1111.50L491.00,1122.50L480.00,1133.50L469.00,1122.50Z" fill="#000" fill-opacity="0.95" stroke="#000" stroke-width="3.2" stroke-linejoin="round"/>
<path d="M565.00,1141.50L576.00,1152.50L565.00,1163.50L554.00,1152.50Z" fill="#000" fill-opacity="0.95" stroke="#000" stroke-width="3.2" stroke-linejoin="round"/>
<path d="M650.00,1083.50L661.00,1094.50L650.00,1105.50L639.00,1094.50Z" fill="#000" fill-opacity="0.95" stroke="#000" stroke-width="3.2" stroke-linejoin="round"/>
<path d="M735.00,1167.00L746.00,1178.00L735.00,1189.00L724.00,1178.00Z" fill="#000" fill-opacity="0.95" stroke="#000" stroke-width="3.2" stroke-linejoin="round"/>
<path d="M820.00,1159.00L831.00,1170.00L820.00,1181.00L809.00,1170.00Z" fill="#000" fill-opacity="0.95" stroke="#000" stroke-width="3.2" stroke-linejoin="round"/>
<path d="M905.00,1131.50L916.00,1142.50L905.00,1153.50L894.00,1142.50Z" fill="#000" fill-opacity="0.95" stroke="#000" stroke-width="3.2" stroke-linejoin="round"/>
<path d="M990.00,1144.50L1001.00,1155.50L990.00,1166.50L979.00,1155.50Z" fill="#000" fill-opacity="0.95" stroke="#000" stroke-width="3.2" stroke-linejoin="round"/>
<text class="s" transform="translate(236.50,1255.70) rotate(-90)" font-size="25.5" text-anchor="start" textLength="25.1" lengthAdjust="spacingAndGlyphs">20</text>
<circle cx="235.20" cy="1227.50" r="1.25" fill="#000"/>
<circle cx="235.20" cy="1222.60" r="1.25" fill="#000"/>
<circle cx="235.20" cy="1217.90" r="1.25" fill="#000"/>
<text class="s" transform="translate(321.50,1255.70) rotate(-90)" font-size="25.5" text-anchor="start" textLength="25.1" lengthAdjust="spacingAndGlyphs">20</text>
<circle cx="320.20" cy="1227.50" r="1.25" fill="#000"/>
<circle cx="320.20" cy="1222.60" r="1.25" fill="#000"/>
<circle cx="320.20" cy="1217.90" r="1.25" fill="#000"/>
<text class="s" transform="translate(406.50,1255.70) rotate(-90)" font-size="25.5" text-anchor="start" textLength="25.1" lengthAdjust="spacingAndGlyphs">20</text>
<circle cx="405.20" cy="1227.50" r="1.25" fill="#000"/>
<circle cx="405.20" cy="1222.60" r="1.25" fill="#000"/>
<circle cx="405.20" cy="1217.90" r="1.25" fill="#000"/>
<text class="s" transform="translate(491.50,1255.70) rotate(-90)" font-size="25.5" text-anchor="start" textLength="25.1" lengthAdjust="spacingAndGlyphs">20</text>
<circle cx="490.20" cy="1227.50" r="1.25" fill="#000"/>
<circle cx="490.20" cy="1222.60" r="1.25" fill="#000"/>
<circle cx="490.20" cy="1217.90" r="1.25" fill="#000"/>
<text class="s" transform="translate(576.50,1255.70) rotate(-90)" font-size="25.5" text-anchor="start" textLength="25.1" lengthAdjust="spacingAndGlyphs">20</text>
<circle cx="575.20" cy="1227.50" r="1.25" fill="#000"/>
<circle cx="575.20" cy="1222.60" r="1.25" fill="#000"/>
<circle cx="575.20" cy="1217.90" r="1.25" fill="#000"/>
<text class="s" transform="translate(661.50,1255.70) rotate(-90)" font-size="25.5" text-anchor="start" textLength="25.1" lengthAdjust="spacingAndGlyphs">20</text>
<circle cx="660.20" cy="1227.50" r="1.25" fill="#000"/>
<circle cx="660.20" cy="1222.60" r="1.25" fill="#000"/>
<circle cx="660.20" cy="1217.90" r="1.25" fill="#000"/>
<text class="s" transform="translate(746.50,1255.70) rotate(-90)" font-size="25.5" text-anchor="start" textLength="25.1" lengthAdjust="spacingAndGlyphs">20</text>
<circle cx="745.20" cy="1227.50" r="1.25" fill="#000"/>
<circle cx="745.20" cy="1222.60" r="1.25" fill="#000"/>
<circle cx="745.20" cy="1217.90" r="1.25" fill="#000"/>
<text class="s" transform="translate(831.50,1255.70) rotate(-90)" font-size="25.5" text-anchor="start" textLength="25.1" lengthAdjust="spacingAndGlyphs">20</text>
<circle cx="830.20" cy="1227.50" r="1.25" fill="#000"/>
<circle cx="830.20" cy="1222.60" r="1.25" fill="#000"/>
<circle cx="830.20" cy="1217.90" r="1.25" fill="#000"/>
<text class="s" transform="translate(916.50,1255.70) rotate(-90)" font-size="25.5" text-anchor="start" textLength="25.1" lengthAdjust="spacingAndGlyphs">20</text>
<circle cx="915.20" cy="1227.50" r="1.25" fill="#000"/>
<circle cx="915.20" cy="1222.60" r="1.25" fill="#000"/>
<circle cx="915.20" cy="1217.90" r="1.25" fill="#000"/>
<text class="s" transform="translate(1001.50,1255.70) rotate(-90)" font-size="25.5" text-anchor="start" textLength="25.1" lengthAdjust="spacingAndGlyphs">20</text>
<circle cx="1000.20" cy="1227.50" r="1.25" fill="#000"/>
<circle cx="1000.20" cy="1222.60" r="1.25" fill="#000"/>
<circle cx="1000.20" cy="1217.90" r="1.25" fill="#000"/>
<text class="s" x="160.80" y="1094.20" font-size="25" text-anchor="end" textLength="26.0" lengthAdjust="spacingAndGlyphs">30</text>
<text class="s" x="160.80" y="1154.00" font-size="25" text-anchor="end" textLength="26.0" lengthAdjust="spacingAndGlyphs">15</text>
<text class="s" x="160.80" y="1213.70" font-size="25" text-anchor="end" textLength="13.0" lengthAdjust="spacingAndGlyphs">0</text>
<text class="s" x="1054.70" y="1094.20" font-size="25" text-anchor="start" textLength="39.0" lengthAdjust="spacingAndGlyphs">250</text>
<text class="s" x="1054.70" y="1118.10" font-size="25" text-anchor="start" textLength="39.0" lengthAdjust="spacingAndGlyphs">200</text>
<text class="s" x="1054.70" y="1142.00" font-size="25" text-anchor="start" textLength="39.0" lengthAdjust="spacingAndGlyphs">150</text>
<text class="s" x="1054.70" y="1165.90" font-size="25" text-anchor="start" textLength="39.0" lengthAdjust="spacingAndGlyphs">100</text>
<text class="s" x="1054.70" y="1189.80" font-size="25" text-anchor="start" textLength="26.0" lengthAdjust="spacingAndGlyphs">50</text>
<text class="s" x="1054.70" y="1213.70" font-size="25" text-anchor="start" textLength="13.0" lengthAdjust="spacingAndGlyphs">0</text>
<text class="t b" x="277.50" y="1028.20" font-size="37.8" text-anchor="start" textLength="167.3" lengthAdjust="spacingAndGlyphs">Oxidative</text>
<text class="t b" x="456.70" y="1028.20" font-size="37.8" text-anchor="start" textLength="174.3" lengthAdjust="spacingAndGlyphs">potential-</text>
<text class="t b" x="640.10" y="1028.20" font-size="37.8" text-anchor="start" textLength="114.3" lengthAdjust="spacingAndGlyphs">PM2.5</text>
<text class="t" x="764.00" y="1028.20" font-size="28" text-anchor="start" textLength="53.7" lengthAdjust="spacingAndGlyphs"><tspan font-weight="bold">(</tspan>Car</text>
<text class="t" x="828.70" y="1028.20" font-size="28" text-anchor="start" textLength="94.8" lengthAdjust="spacingAndGlyphs">Tunnel)</text>
<text class="s" transform="translate(64.60,1327.90) rotate(-90)" font-size="24.6" text-anchor="start" textLength="30.5" lengthAdjust="spacingAndGlyphs"><tspan font-weight="bold">AA</tspan></text>
<text class="s" transform="translate(64.60,1292.20) rotate(-90)" font-size="24.6" text-anchor="start" textLength="41.8" lengthAdjust="spacingAndGlyphs"><tspan font-weight="bold">and</tspan></text>
<text class="s" transform="translate(64.60,1244.40) rotate(-90)" font-size="24.6" text-anchor="start" textLength="43.5" lengthAdjust="spacingAndGlyphs"><tspan font-weight="bold">GSH</tspan></text>
<text class="s" transform="translate(64.60,1194.20) rotate(-90)" font-size="24.6" text-anchor="start" textLength="104.7" lengthAdjust="spacingAndGlyphs"><tspan font-weight="bold">depletion</tspan></text>
<text class="s" transform="translate(64.60,1083.50) rotate(-90)" font-size="24.6" text-anchor="start" textLength="49.8" lengthAdjust="spacingAndGlyphs"><tspan font-weight="bold">over</tspan></text>
<text class="s" transform="translate(92.60,1231.40) rotate(-90)" font-size="24.6" text-anchor="start" textLength="28.2" lengthAdjust="spacingAndGlyphs"><tspan font-weight="bold">90</tspan></text>
<text class="s" transform="translate(92.60,1198.70) rotate(-90)" font-size="24.6" text-anchor="start" textLength="42.9" lengthAdjust="spacingAndGlyphs"><tspan font-weight="bold">min</tspan></text>
<text class="s" transform="translate(92.60,1150.60) rotate(-90)" font-size="24.6" text-anchor="start" textLength="22.5" lengthAdjust="spacingAndGlyphs"><tspan font-weight="bold">of</tspan></text>
<text class="s" transform="translate(120.80,1311.75) rotate(-90)" font-size="24.6" text-anchor="start" textLength="118.1" lengthAdjust="spacingAndGlyphs"><tspan font-weight="bold">incubation</tspan></text>
<text class="s" transform="translate(120.80,1188.95) rotate(-90)" font-size="24.6" text-anchor="start" textLength="50.2" lengthAdjust="spacingAndGlyphs"><tspan font-weight="bold">time</tspan></text>
<text class="s" transform="translate(120.80,1132.15) rotate(-90)" font-size="24.6" text-anchor="start" textLength="80.9" lengthAdjust="spacingAndGlyphs"><tspan font-weight="bold">[</tspan>μg/m<tspan font-size="15" dy="-9">3</tspan><tspan dy="9">]</tspan></text>
<text class="s" transform="translate(1154.20,1256.00) rotate(-90)" font-size="24.6" text-anchor="start" textLength="67.2" lengthAdjust="spacingAndGlyphs"><tspan font-weight="bold">PM2.5</tspan></text>
<text class="s" transform="translate(1154.20,1182.25) rotate(-90)" font-size="24.6" text-anchor="start" textLength="153.5" lengthAdjust="spacingAndGlyphs"><tspan font-weight="bold">concentration</tspan></text>
<text class="s" transform="translate(1182.20,1184.30) rotate(-90)" font-size="24.6" text-anchor="start" textLength="81.9" lengthAdjust="spacingAndGlyphs"><tspan font-weight="bold">[</tspan>μg/m<tspan font-size="15" dy="-9">3</tspan><tspan dy="9">]</tspan></text>
<rect x="434.40" y="1356.50" width="13" height="13" fill="#4472C4"/>
<rect x="522.50" y="1356.50" width="13" height="13" fill="#ED7D31"/>
<path d="M604.50,1356.00L611.50,1363.00L604.50,1370.00L597.50,1363.00Z" fill="#0d0d0d" stroke="#000" stroke-width="3.0" stroke-linejoin="round"/>
<text class="s" x="453.00" y="1369.40" font-size="23.8" text-anchor="start" textLength="42.0" lengthAdjust="spacingAndGlyphs">GSH</text>
<text class="s" x="541.00" y="1369.40" font-size="23.8" text-anchor="start" textLength="30.0" lengthAdjust="spacingAndGlyphs">AA</text>
<text class="s" x="617.40" y="1369.40" font-size="23.8" text-anchor="start" textLength="62.4" lengthAdjust="spacingAndGlyphs">PM2.5</text>
<text class="s" x="686.40" y="1369.40" font-size="23.8" text-anchor="start" textLength="85.0" lengthAdjust="spacingAndGlyphs">[μg/m3]</text>
<rect x="11.30" y="1403.80" width="1178.70" height="398.20" fill="#fff" stroke="#dedede" stroke-width="2"/>
<rect x="184.50" y="1517.50" width="846.75" height="107.50" fill="url(#hc4)"/>
<line x1="184.50" y1="1517.50" x2="1031.25" y2="1517.50" stroke="#dcdcdc" stroke-width="2"/>
<line x1="184.50" y1="1571.25" x2="1031.25" y2="1571.25" stroke="#dcdcdc" stroke-width="2"/>
<line x1="184.50" y1="1625.00" x2="1031.25" y2="1625.00" stroke="#dcdcdc" stroke-width="2"/>
<line x1="184.50" y1="1517.50" x2="184.50" y2="1625.00" stroke="#dcdcdc" stroke-width="2"/>
<line x1="184.50" y1="1625.00" x2="184.50" y2="1632.00" stroke="#efefef" stroke-width="1.5"/>
<line x1="269.18" y1="1517.50" x2="269.18" y2="1625.00" stroke="#dcdcdc" stroke-width="2"/>
<line x1="269.18" y1="1625.00" x2="269.18" y2="1632.00" stroke="#efefef" stroke-width="1.5"/>
<line x1="353.85" y1="1517.50" x2="353.85" y2="1625.00" stroke="#dcdcdc" stroke-width="2"/>
<line x1="353.85" y1="1625.00" x2="353.85" y2="1632.00" stroke="#efefef" stroke-width="1.5"/>
<line x1="438.52" y1="1517.50" x2="438.52" y2="1625.00" stroke="#dcdcdc" stroke-width="2"/>
<line x1="438.52" y1="1625.00" x2="438.52" y2="1632.00" stroke="#efefef" stroke-width="1.5"/>
<line x1="523.20" y1="1517.50" x2="523.20" y2="1625.00" stroke="#dcdcdc" stroke-width="2"/>
<line x1="523.20" y1="1625.00" x2="523.20" y2="1632.00" stroke="#efefef" stroke-width="1.5"/>
<line x1="607.88" y1="1517.50" x2="607.88" y2="1625.00" stroke="#dcdcdc" stroke-width="2"/>
<line x1="607.88" y1="1625.00" x2="607.88" y2="1632.00" stroke="#efefef" stroke-width="1.5"/>
<line x1="692.55" y1="1517.50" x2="692.55" y2="1625.00" stroke="#dcdcdc" stroke-width="2"/>
<line x1="692.55" y1="1625.00" x2="692.55" y2="1632.00" stroke="#efefef" stroke-width="1.5"/>
<line x1="777.23" y1="1517.50" x2="777.23" y2="1625.00" stroke="#dcdcdc" stroke-width="2"/>
<line x1="777.23" y1="1625.00" x2="777.23" y2="1632.00" stroke="#efefef" stroke-width="1.5"/>
<line x1="861.90" y1="1517.50" x2="861.90" y2="1625.00" stroke="#dcdcdc" stroke-width="2"/>
<line x1="861.90" y1="1625.00" x2="861.90" y2="1632.00" stroke="#efefef" stroke-width="1.5"/>
<line x1="946.57" y1="1517.50" x2="946.57" y2="1625.00" stroke="#dcdcdc" stroke-width="2"/>
<line x1="946.57" y1="1625.00" x2="946.57" y2="1632.00" stroke="#efefef" stroke-width="1.5"/>
<line x1="1031.25" y1="1517.50" x2="1031.25" y2="1625.00" stroke="#dcdcdc" stroke-width="2"/>
<line x1="1031.25" y1="1625.00" x2="1031.25" y2="1632.00" stroke="#efefef" stroke-width="1.5"/>
<rect x="208.44" y="1594.25" width="17.60" height="30.75" fill="#4472C4"/>
<rect x="226.04" y="1581.75" width="19.70" height="43.25" fill="#ED7D31"/>
<rect x="293.11" y="1585.25" width="17.60" height="39.75" fill="#4472C4"/>
<rect x="310.71" y="1574.00" width="19.70" height="51.00" fill="#ED7D31"/>
<rect x="377.79" y="1541.75" width="17.60" height="83.25" fill="#4472C4"/>
<rect x="395.39" y="1546.00" width="19.70" height="79.00" fill="#ED7D31"/>
<rect x="462.46" y="1595.00" width="17.60" height="30.00" fill="#4472C4"/>
<rect x="480.06" y="1574.00" width="19.70" height="51.00" fill="#ED7D31"/>
<rect x="547.14" y="1568.75" width="17.60" height="56.25" fill="#4472C4"/>
<rect x="564.74" y="1564.50" width="19.70" height="60.50" fill="#ED7D31"/>
<rect x="631.81" y="1589.25" width="17.60" height="35.75" fill="#4472C4"/>
<rect x="649.41" y="1590.00" width="19.70" height="35.00" fill="#ED7D31"/>
<rect x="716.49" y="1581.75" width="17.60" height="43.25" fill="#4472C4"/>
<rect x="734.09" y="1579.25" width="19.70" height="45.75" fill="#ED7D31"/>
<rect x="801.16" y="1600.50" width="17.60" height="24.50" fill="#4472C4"/>
<rect x="818.76" y="1592.50" width="19.70" height="32.50" fill="#ED7D31"/>
<rect x="885.84" y="1562.00" width="17.60" height="63.00" fill="#4472C4"/>
<rect x="903.44" y="1557.00" width="19.70" height="68.00" fill="#ED7D31"/>
<rect x="970.51" y="1576.25" width="17.60" height="48.75" fill="#4472C4"/>
<rect x="988.11" y="1517.00" width="19.70" height="108.00" fill="#ED7D31"/>
<path d="M226.84,1574.50L237.84,1585.50L226.84,1596.50L215.84,1585.50Z" fill="#000" fill-opacity="0.95" stroke="#000" stroke-width="3.2" stroke-linejoin="round"/>
<path d="M311.51,1566.00L322.51,1577.00L311.51,1588.00L300.51,1577.00Z" fill="#000" fill-opacity="0.95" stroke="#000" stroke-width="3.2" stroke-linejoin="round"/>
<path d="M396.19,1575.25L407.19,1586.25L396.19,1597.25L385.19,1586.25Z" fill="#000" fill-opacity="0.95" stroke="#000" stroke-width="3.2" stroke-linejoin="round"/>
<path d="M480.86,1579.50L491.86,1590.50L480.86,1601.50L469.86,1590.50Z" fill="#000" fill-opacity="0.95" stroke="#000" stroke-width="3.2" stroke-linejoin="round"/>
<path d="M565.54,1554.00L576.54,1565.00L565.54,1576.00L554.54,1565.00Z" fill="#000" fill-opacity="0.95" stroke="#000" stroke-width="3.2" stroke-linejoin="round"/>
<path d="M650.21,1563.50L661.21,1574.50L650.21,1585.50L639.21,1574.50Z" fill="#000" fill-opacity="0.95" stroke="#000" stroke-width="3.2" stroke-linejoin="round"/>
<path d="M734.89,1584.00L745.89,1595.00L734.89,1606.00L723.89,1595.00Z" fill="#000" fill-opacity="0.95" stroke="#000" stroke-width="3.2" stroke-linejoin="round"/>
<path d="M819.56,1537.75L830.56,1548.75L819.56,1559.75L808.56,1548.75Z" fill="#000" fill-opacity="0.95" stroke="#000" stroke-width="3.2" stroke-linejoin="round"/>
<path d="M904.24,1548.25L915.24,1559.25L904.24,1570.25L893.24,1559.25Z" fill="#000" fill-opacity="0.95" stroke="#000" stroke-width="3.2" stroke-linejoin="round"/>
<path d="M988.91,1565.25L999.91,1576.25L988.91,1587.25L977.91,1576.25Z" fill="#000" fill-opacity="0.95" stroke="#000" stroke-width="3.2" stroke-linejoin="round"/>
<text class="s" transform="translate(238.64,1666.70) rotate(-90)" font-size="25.5" text-anchor="start" textLength="11.5" lengthAdjust="spacingAndGlyphs">2</text>
<circle cx="237.14" cy="1651.50" r="1.25" fill="#000"/>
<circle cx="237.14" cy="1646.75" r="1.25" fill="#000"/>
<circle cx="237.14" cy="1641.60" r="1.25" fill="#000"/>
<text class="s" transform="translate(323.31,1666.70) rotate(-90)" font-size="25.5" text-anchor="start" textLength="11.5" lengthAdjust="spacingAndGlyphs">2</text>
<circle cx="321.81" cy="1651.50" r="1.25" fill="#000"/>
<circle cx="321.81" cy="1646.75" r="1.25" fill="#000"/>
<circle cx="321.81" cy="1641.60" r="1.25" fill="#000"/>
<text class="s" transform="translate(407.99,1666.70) rotate(-90)" font-size="25.5" text-anchor="start" textLength="11.5" lengthAdjust="spacingAndGlyphs">2</text>
<circle cx="406.49" cy="1651.50" r="1.25" fill="#000"/>
<circle cx="406.49" cy="1646.75" r="1.25" fill="#000"/>
<circle cx="406.49" cy="1641.60" r="1.25" fill="#000"/>
<text class="s" transform="translate(492.66,1666.70) rotate(-90)" font-size="25.5" text-anchor="start" textLength="11.5" lengthAdjust="spacingAndGlyphs">2</text>
<circle cx="491.16" cy="1651.50" r="1.25" fill="#000"/>
<circle cx="491.16" cy="1646.75" r="1.25" fill="#000"/>
<circle cx="491.16" cy="1641.60" r="1.25" fill="#000"/>
<text class="s" transform="translate(577.34,1666.70) rotate(-90)" font-size="25.5" text-anchor="start" textLength="11.5" lengthAdjust="spacingAndGlyphs">2</text>
<circle cx="575.84" cy="1651.50" r="1.25" fill="#000"/>
<circle cx="575.84" cy="1646.75" r="1.25" fill="#000"/>
<circle cx="575.84" cy="1641.60" r="1.25" fill="#000"/>
<text class="s" transform="translate(662.01,1666.70) rotate(-90)" font-size="25.5" text-anchor="start" textLength="11.5" lengthAdjust="spacingAndGlyphs">2</text>
<circle cx="660.51" cy="1651.50" r="1.25" fill="#000"/>
<circle cx="660.51" cy="1646.75" r="1.25" fill="#000"/>
<circle cx="660.51" cy="1641.60" r="1.25" fill="#000"/>
<text class="s" transform="translate(746.69,1666.70) rotate(-90)" font-size="25.5" text-anchor="start" textLength="11.5" lengthAdjust="spacingAndGlyphs">2</text>
<circle cx="745.19" cy="1651.50" r="1.25" fill="#000"/>
<circle cx="745.19" cy="1646.75" r="1.25" fill="#000"/>
<circle cx="745.19" cy="1641.60" r="1.25" fill="#000"/>
<text class="s" transform="translate(831.36,1666.70) rotate(-90)" font-size="25.5" text-anchor="start" textLength="11.5" lengthAdjust="spacingAndGlyphs">2</text>
<circle cx="829.86" cy="1651.50" r="1.25" fill="#000"/>
<circle cx="829.86" cy="1646.75" r="1.25" fill="#000"/>
<circle cx="829.86" cy="1641.60" r="1.25" fill="#000"/>
<text class="s" transform="translate(916.04,1666.70) rotate(-90)" font-size="25.5" text-anchor="start" textLength="11.5" lengthAdjust="spacingAndGlyphs">2</text>
<circle cx="914.54" cy="1651.50" r="1.25" fill="#000"/>
<circle cx="914.54" cy="1646.75" r="1.25" fill="#000"/>
<circle cx="914.54" cy="1641.60" r="1.25" fill="#000"/>
<text class="s" transform="translate(1000.71,1666.70) rotate(-90)" font-size="25.5" text-anchor="start" textLength="11.5" lengthAdjust="spacingAndGlyphs">2</text>
<circle cx="999.21" cy="1651.50" r="1.25" fill="#000"/>
<circle cx="999.21" cy="1646.75" r="1.25" fill="#000"/>
<circle cx="999.21" cy="1641.60" r="1.25" fill="#000"/>
<text class="s" x="162.80" y="1530.20" font-size="25" text-anchor="end" textLength="26.0" lengthAdjust="spacingAndGlyphs">30</text>
<text class="s" x="162.80" y="1584.00" font-size="25" text-anchor="end" textLength="26.0" lengthAdjust="spacingAndGlyphs">15</text>
<text class="s" x="162.80" y="1637.70" font-size="25" text-anchor="end" textLength="13.0" lengthAdjust="spacingAndGlyphs">0</text>
<text class="s" x="1053.70" y="1530.20" font-size="25" text-anchor="start" textLength="39.0" lengthAdjust="spacingAndGlyphs">150</text>
<text class="s" x="1053.70" y="1566.00" font-size="25" text-anchor="start" textLength="39.0" lengthAdjust="spacingAndGlyphs">100</text>
<text class="s" x="1053.70" y="1601.90" font-size="25" text-anchor="start" textLength="26.0" lengthAdjust="spacingAndGlyphs">50</text>
<text class="s" x="1053.70" y="1637.70" font-size="25" text-anchor="start" textLength="13.0" lengthAdjust="spacingAndGlyphs">0</text>
<text class="t b" x="265.50" y="1464.20" font-size="37.8" text-anchor="start" textLength="167.3" lengthAdjust="spacingAndGlyphs">Oxidative</text>
<text class="t b" x="444.70" y="1464.20" font-size="37.8" text-anchor="start" textLength="174.3" lengthAdjust="spacingAndGlyphs">potential-</text>
<text class="t b" x="628.10" y="1464.20" font-size="37.8" text-anchor="start" textLength="114.3" lengthAdjust="spacingAndGlyphs">PM2.5</text>
<text class="t" x="752.10" y="1464.20" font-size="28" text-anchor="start" textLength="77.4" lengthAdjust="spacingAndGlyphs"><tspan font-weight="bold">(</tspan>Tram</text>
<text class="t" x="836.30" y="1464.20" font-size="28" text-anchor="start" textLength="98.9" lengthAdjust="spacingAndGlyphs">Tunnel)</text>
<text class="s" transform="translate(66.70,1707.50) rotate(-90)" font-size="24.6" text-anchor="start" textLength="30.5" lengthAdjust="spacingAndGlyphs"><tspan font-weight="bold">AA</tspan></text>
<text class="s" transform="translate(66.70,1671.80) rotate(-90)" font-size="24.6" text-anchor="start" textLength="41.8" lengthAdjust="spacingAndGlyphs"><tspan font-weight="bold">and</tspan></text>
<text class="s" transform="translate(66.70,1624.00) rotate(-90)" font-size="24.6" text-anchor="start" textLength="43.5" lengthAdjust="spacingAndGlyphs"><tspan font-weight="bold">GSH</tspan></text>
<text class="s" transform="translate(66.70,1573.80) rotate(-90)" font-size="24.6" text-anchor="start" textLength="104.7" lengthAdjust="spacingAndGlyphs"><tspan font-weight="bold">depletion</tspan></text>
<text class="s" transform="translate(94.60,1666.75) rotate(-90)" font-size="24.6" text-anchor="start" textLength="49.8" lengthAdjust="spacingAndGlyphs"><tspan font-weight="bold">over</tspan></text>
<text class="s" transform="translate(94.60,1611.45) rotate(-90)" font-size="24.6" text-anchor="start" textLength="27.2" lengthAdjust="spacingAndGlyphs"><tspan font-weight="bold">90</tspan></text>
<text class="s" transform="translate(94.60,1578.75) rotate(-90)" font-size="24.6" text-anchor="start" textLength="42.9" lengthAdjust="spacingAndGlyphs"><tspan font-weight="bold">min</tspan></text>
<text class="s" transform="translate(94.60,1531.65) rotate(-90)" font-size="24.6" text-anchor="start" textLength="23.5" lengthAdjust="spacingAndGlyphs"><tspan font-weight="bold">of</tspan></text>
<text class="s" transform="translate(122.90,1717.50) rotate(-90)" font-size="24.6" text-anchor="start" textLength="117.1" lengthAdjust="spacingAndGlyphs"><tspan font-weight="bold">incubation</tspan></text>
<text class="s" transform="translate(122.90,1595.70) rotate(-90)" font-size="24.6" text-anchor="start" textLength="51.2" lengthAdjust="spacingAndGlyphs"><tspan font-weight="bold">time</tspan></text>
<text class="s" transform="translate(122.90,1538.90) rotate(-90)" font-size="24.6" text-anchor="start" textLength="81.9" lengthAdjust="spacingAndGlyphs"><tspan font-weight="bold">[</tspan>μg/m<tspan font-size="15" dy="-9">3</tspan><tspan dy="9">]</tspan></text>
<text class="s" transform="translate(1152.50,1684.30) rotate(-90)" font-size="24.6" text-anchor="start" textLength="67.2" lengthAdjust="spacingAndGlyphs"><tspan font-weight="bold">PM2.5</tspan></text>
<text class="s" transform="translate(1152.50,1610.55) rotate(-90)" font-size="24.6" text-anchor="start" textLength="153.5" lengthAdjust="spacingAndGlyphs"><tspan font-weight="bold">concentration</tspan></text>
<text class="s" transform="translate(1180.50,1612.10) rotate(-90)" font-size="24.6" text-anchor="start" textLength="81.9" lengthAdjust="spacingAndGlyphs"><tspan font-weight="bold">[</tspan>μg/m<tspan font-size="15" dy="-9">3</tspan><tspan dy="9">]</tspan></text>
<rect x="434.75" y="1762.50" width="13" height="13" fill="#4472C4"/>
<rect x="523.10" y="1762.50" width="13" height="13" fill="#ED7D31"/>
<path d="M605.00,1761.50L612.00,1768.50L605.00,1775.50L598.00,1768.50Z" fill="#0d0d0d" stroke="#000" stroke-width="3.0" stroke-linejoin="round"/>
<text class="s" x="453.00" y="1775.00" font-size="23.8" text-anchor="start" textLength="42.2" lengthAdjust="spacingAndGlyphs">GSH</text>
<text class="s" x="540.80" y="1775.00" font-size="23.8" text-anchor="start" textLength="30.2" lengthAdjust="spacingAndGlyphs">AA</text>
<text class="s" x="617.00" y="1775.00" font-size="23.8" text-anchor="start" textLength="62.8" lengthAdjust="spacingAndGlyphs">PM2.5</text>
<text class="s" x="687.00" y="1775.00" font-size="23.8" text-anchor="start" textLength="85.0" lengthAdjust="spacingAndGlyphs">[μg/m3]</text>
</svg>
</body></html>
